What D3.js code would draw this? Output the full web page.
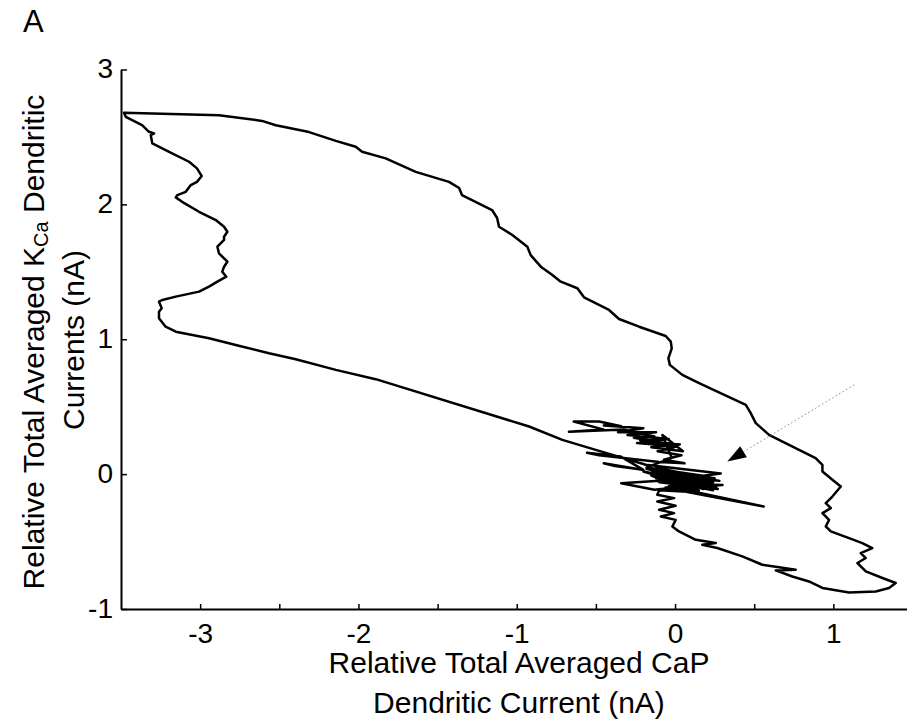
<!DOCTYPE html>
<html>
<head>
<meta charset="utf-8">
<script src="https://cdn.jsdelivr.net/npm/d3@7"></script>
<style>
  body { margin: 0; background: #fff; }
  svg { display: block; }
  text { font-family: "Liberation Sans", Arial, Helvetica, sans-serif; fill: #000; }
</style>
</head>
<body>
<svg id="chart" width="907" height="722"></svg>
<script>
// Axis ticks
const xMajorTicks = [-3, -2, -1, 0, 1];
const xMinorTicks = [-2.5, -1.5, -0.5, 0.5];
const yTicks = [-1, 0, 1, 2, 3];

// Phase-plane trajectory: CaP current (x, nA) vs KCa current (y, nA), in drawing order.
// Noisy segment around the resting point
const restingNoise = [
  [-0.2, 0.03], [-0.45, 0.08], [-0.38, 0.06], [-0.2, 0.032], [-0.343, 0.13],
  [-0.556, 0.158], [-0.48, 0.14], [-0.1, 0.09], [0.06, 0.08], [-0.07, 0.106],
  [0.04, 0.14], [-0.11, 0.17], [0.01, 0.205], [-0.24, 0.23], [-0.07, 0.23],
  [-0.26, 0.27], [-0.13, 0.28], [-0.32, 0.33], [-0.67, 0.315], [-0.45, 0.33],
  [-0.64, 0.39], [-0.48, 0.39], [-0.34, 0.355], [-0.45, 0.36], [-0.2, 0.34],
  [-0.36, 0.31], [-0.12, 0.31], [-0.3, 0.29], [-0.04, 0.26], [-0.22, 0.25],
  [0.03, 0.22], [-0.15, 0.2], [0.05, 0.17], [-0.08, 0.29], [-0.02, 0.12],
  [-0.18, 0.05], [0.22, -0.02], [-0.12, 0.0],
  [0.18, -0.07], [-0.08, -0.03], [0.26, -0.1], [-0.15, -0.01], [0.12, -0.13],
  [-0.05, -0.06], [0.2, -0.04], [0.02, -0.12], [0.56, -0.24], [0.0, -0.1],
  [-0.13, -0.116], [-0.34, -0.067], [-0.1, -0.05], [0.1, -0.08], [-0.06, -0.1],
  [0.08, -0.13], [-0.1, -0.12]
];

// Descent towards the lower-right extreme
const descendingBranch = [
  [-0.112, -0.153], [-0.006, -0.178], [-0.112, -0.203], [0.004, -0.235], [-0.101, -0.264],
  [-0.006, -0.289], [-0.090, -0.314], [0.004, -0.339], [-0.017, -0.388], [0.025, -0.425],
  [0.131, -0.487], [0.257, -0.511], [0.172, -0.524], [0.267, -0.548], [0.425, -0.610],
  [0.551, -0.672], [0.762, -0.709], [0.636, -0.714], [0.741, -0.759], [0.846, -0.796],
  [0.931, -0.844], [1.099, -0.877], [1.268, -0.870], [1.352, -0.844], [1.394, -0.807]
];

// Outer branch climbing to the upper-left extreme
const risingBranch = [
  [1.310, -0.770], [1.205, -0.721], [1.152, -0.659], [1.205, -0.622], [1.173, -0.585],
  [1.246, -0.548], [1.183, -0.511], [1.099, -0.474], [0.984, -0.425], [0.952, -0.388],
  [0.973, -0.339], [0.931, -0.289], [0.984, -0.252], [0.952, -0.215], [0.994, -0.166],
  [1.047, -0.092], [0.994, -0.042], [0.931, 0.019], [0.931, 0.069], [0.888, 0.119],
  [0.720, 0.217], [0.594, 0.291], [0.510, 0.378], [0.478, 0.452], [0.447, 0.513],
  [0.267, 0.612], [0.152, 0.674], [0.046, 0.736], [-0.033, 0.810], [-0.042, 0.859],
  [-0.021, 0.933], [-0.027, 0.982], [-0.059, 1.024], [-0.227, 1.093], [-0.354, 1.150],
  [-0.417, 1.217], [-0.575, 1.311], [-0.617, 1.378], [-0.722, 1.427], [-0.775, 1.476],
  [-0.848, 1.538], [-0.912, 1.624], [-0.933, 1.686], [-1.028, 1.773], [-1.112, 1.834],
  [-1.124, 1.899], [-1.156, 1.958], [-1.346, 2.069], [-1.364, 2.121], [-1.428, 2.167],
  [-1.638, 2.241], [-1.828, 2.341], [-1.977, 2.390], [-2.017, 2.427], [-2.143, 2.471],
  [-2.312, 2.536], [-2.522, 2.587], [-2.609, 2.619], [-2.881, 2.661], [-3.481, 2.679]
];

// Inner left flank coming back down
const leftFlank = [
  [-3.470, 2.649], [-3.367, 2.587], [-3.323, 2.538], [-3.291, 2.526], [-3.312, 2.513],
  [-3.302, 2.452], [-3.196, 2.390], [-3.070, 2.316], [-3.020, 2.267], [-2.990, 2.210],
  [-3.020, 2.167], [-3.059, 2.143], [-3.091, 2.093], [-3.144, 2.069], [-3.154, 2.052],
  [-3.114, 2.019], [-3.007, 1.945], [-2.901, 1.884], [-2.849, 1.834], [-2.828, 1.797],
  [-2.849, 1.760], [-2.849, 1.736], [-2.891, 1.686], [-2.881, 1.637], [-2.828, 1.575],
  [-2.849, 1.538], [-2.860, 1.501], [-2.835, 1.464], [-2.891, 1.427], [-2.944, 1.390],
  [-3.007, 1.353], [-3.154, 1.316], [-3.239, 1.291], [-3.260, 1.279], [-3.243, 1.230],
  [-3.260, 1.204], [-3.260, 1.156], [-3.218, 1.093], [-3.154, 1.056], [-2.944, 1.007],
  [-2.775, 0.958], [-2.565, 0.896], [-2.396, 0.852], [-2.143, 0.773], [-1.891, 0.704]
];

// Return to the resting point, settling into the dense cluster
const returnBranch = [
  [-0.922, 0.353], [-0.712, 0.254], [-0.501, 0.180], [-0.185, 0.069], [0.289, 0.005],
  [0.05, -0.03], [0.24, -0.06], [-0.1, 0.02], [0.2, -0.09], [-0.05, -0.04],
  [0.15, -0.12], [-0.15, 0.01], [0.25, -0.03], [-0.18, 0.04], [0.22, -0.08],
  [-0.12, 0.05], [0.28, -0.05], [-0.08, -0.01], [0.18, -0.11], [-0.2, 0.02],
  [0.26, -0.09], [-0.05, 0.03], [0.15, -0.14], [-0.1, -0.04], [0.24, -0.12],
  [-0.15, 0.03], [0.1, -0.1], [0.3, -0.08], [-0.02, -0.07], [0.2, -0.02],
  [-0.12, -0.03], [0.14, -0.06], [-0.06, 0.0], [0.27, -0.11], [-0.1, -0.06],
  [0.22, -0.04], [-0.04, -0.09], [0.16, -0.03], [0.0, -0.02]
];

// Annotation arrow (tail, tip) in data units
const arrowTail = [1.131, 0.661];
const arrowTip = [0.330, 0.093];

const trajectory = [].concat(restingNoise, descendingBranch, risingBranch, leftFlank, returnBranch);

const svg = d3.select('#chart');

const x = d3.scaleLinear().domain([-3.5, 1.5]).range([121, 912.5]);
const y = d3.scaleLinear().domain([-1, 3]).range([609, 69.5]);

// X axis (ticks point inward)
const xAxis = svg.append('g')
  .attr('transform', `translate(0,${y(-1)})`)
  .call(d3.axisBottom(x)
    .tickValues(xMajorTicks.concat(xMinorTicks))
    .tickSizeInner(-5)
    .tickSizeOuter(0)
    .tickPadding(14)
    .tickFormat(d => xMajorTicks.includes(d) ? String(d) : ''));

// Y axis
const yAxis = svg.append('g')
  .attr('transform', `translate(${x(-3.5)},0)`)
  .call(d3.axisLeft(y)
    .tickValues(yTicks)
    .tickSizeInner(-6)
    .tickSizeOuter(0)
    .tickPadding(8)
    .tickFormat(d => String(d)));

[xAxis, yAxis].forEach(g => {
  g.select('.domain').attr('stroke', '#000').attr('stroke-width', 2);
  g.selectAll('.tick line').attr('stroke', '#000').attr('stroke-width', 1.5);
  g.selectAll('.tick text')
    .style('font-family', '"Liberation Sans", Arial, sans-serif')
    .style('font-size', '28px')
    .attr('fill', '#000');
});
yAxis.selectAll('.tick text').attr('dy', '0.3em');

// Trajectory
const line = d3.line().x(d => x(d[0])).y(d => y(d[1]));
svg.append('path')
  .datum(trajectory)
  .attr('d', line)
  .attr('fill', 'none')
  .attr('stroke', '#000')
  .attr('stroke-width', 2.5)
  .attr('stroke-linejoin', 'round')
  .attr('stroke-linecap', 'round');

// Dotted arrow marking the resting point
const tx = x(arrowTail[0]), ty = y(arrowTail[1]);
const hx = x(arrowTip[0]), hy = y(arrowTip[1]);
const ang = Math.atan2(hy - ty, hx - tx);
const headLen = 19, headHalf = 6.5;
const bx = hx - headLen * Math.cos(ang), by = hy - headLen * Math.sin(ang);
svg.append('line')
  .attr('x1', tx).attr('y1', ty).attr('x2', bx).attr('y2', by)
  .attr('stroke', '#8a8a8a').attr('stroke-width', 1)
  .attr('stroke-dasharray', '1.5,2.5');
svg.append('path')
  .attr('d', d3.line()([
    [hx, hy],
    [bx + headHalf * Math.sin(ang), by - headHalf * Math.cos(ang)],
    [bx - headHalf * Math.sin(ang), by + headHalf * Math.cos(ang)]
  ]) + 'Z')
  .attr('fill', '#000');

// Panel letter
svg.append('text')
  .attr('x', 23).attr('y', 32)
  .style('font-size', '31px')
  .text('A');

// Axis titles
const titleSize = '30px';
const xTitle = svg.append('text')
  .attr('text-anchor', 'middle')
  .style('font-size', titleSize);
xTitle.append('tspan').attr('x', 519).attr('y', 673).text('Relative Total Averaged CaP');
xTitle.append('tspan').attr('x', 519).attr('y', 713).text('Dendritic Current (nA)');

const yTitle1 = svg.append('text')
  .attr('text-anchor', 'middle')
  .attr('transform', 'translate(44,342) rotate(-90)')
  .style('font-size', titleSize);
yTitle1.append('tspan').text('Relative Total Averaged K');
yTitle1.append('tspan').attr('dy', 4).style('font-size', '20px').text('Ca');
yTitle1.append('tspan').attr('dy', -4).text(' Dendritic');

svg.append('text')
  .attr('text-anchor', 'middle')
  .attr('transform', 'translate(84,340) rotate(-90)')
  .style('font-size', titleSize)
  .text('Currents (nA)');
</script>
</body>
</html>
